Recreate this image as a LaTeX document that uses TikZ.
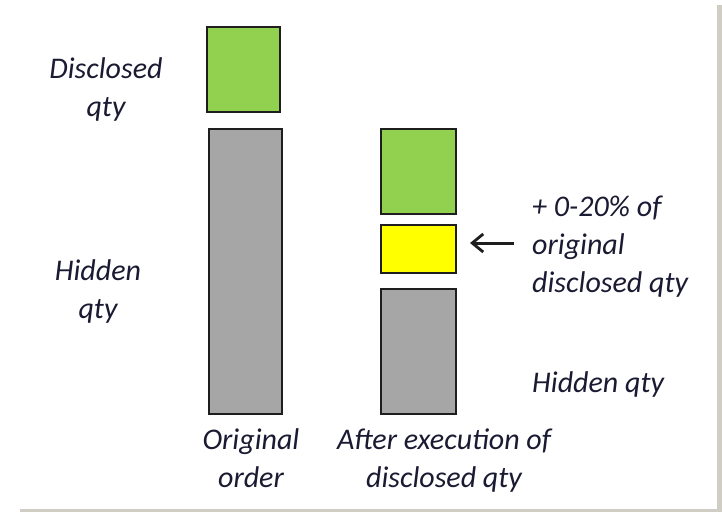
\documentclass[tikz,border=0pt]{standalone}
\usepackage{fontspec}
\setmainfont{Carlito}
\usetikzlibrary{arrows.meta}
\definecolor{qgreen}{HTML}{92D050}
\definecolor{qgray}{HTML}{A6A6A6}
\definecolor{qyellow}{HTML}{FFFF00}
\definecolor{qline}{HTML}{1E1E1E}
\definecolor{qtext}{HTML}{1A1A33}
\definecolor{qframe}{HTML}{D0CEC4}
\tikzset{
  bar/.style={draw=qline, line width=1.8pt, inner sep=0pt, outer sep=0pt},
  lbl/.style={text=qtext, font=\fontsize{30}{38}\selectfont\itshape, inner sep=0pt, anchor=base},
}
\begin{document}
\begin{tikzpicture}[x=1pt,y=-1pt]
\useasboundingbox (0,0) rectangle (722,512);
\fill[white] (0,0) rectangle (722,512);
\fill[qframe] (717,5) rectangle (722,512);
\fill[qframe] (20,509) rectangle (722,512);

% original order
\node[bar, fill=qgreen, minimum width=73pt, minimum height=85pt] (g1) at (243.5,69.5) {};
\node[bar, fill=qgray, minimum width=73pt, minimum height=285pt] (h1) at (245.5,271.5) {};
% after execution
\node[bar, fill=qgreen, minimum width=75pt, minimum height=85pt] (g2) at (418.5,171.5) {};
\node[bar, fill=qyellow, minimum width=75pt, minimum height=48pt] (y2) at (418.5,249) {};
\node[bar, fill=qgray, minimum width=75pt, minimum height=125pt] (h2) at (418.5,351.5) {};

% labels (anchor=base refers to the last line)
\node[lbl, align=center] (tdisc) at (106,116) {Disclosed\\qty};
\node[lbl, align=center] (thid) at (98,318) {Hidden\\qty};
\node[lbl, align=center] (torig) at (251,487) {Original\\order};
\node[lbl, align=center] (tafter) at (444,487) {After execution of\\disclosed qty};
\node[lbl, align=left, anchor=base west] (tplus) at (532,292) {+ 0-20\% of\\original\\disclosed qty};
\node[lbl, anchor=base west] (thid2) at (532,392) {Hidden qty};

\coordinate (astart) at (514,243);
\coordinate (atip) at (470,243);
\draw[qline, line width=3pt, -{Straight Barb[length=11pt,width=18pt,line width=2.8pt]}] (astart) -- (atip);
\end{tikzpicture}
\end{document}
